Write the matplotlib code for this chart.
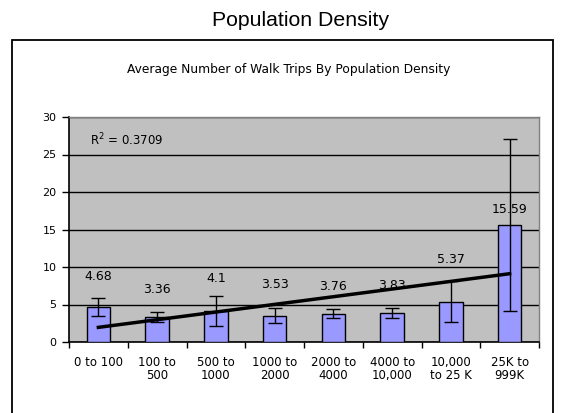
import numpy as np
import matplotlib.pyplot as plt
from matplotlib.patches import Rectangle

# donnees
categories = ["0 to 100", "100 to\n500", "500 to\n1000", "1000 to\n2000", "2000 to\n4000",
              "4000 to\n10,000", "10,000\nto 25 K", "25K to\n999K"]
moyennes = [4.68, 3.36, 4.1, 3.53, 3.76, 3.83, 5.37, 15.59]
erreurs = [1.2, 0.7, 2.0, 1.0, 0.6, 0.65, 2.7, 11.5]
etiquettes = ["4.68", "3.36", "4.1", "3.53", "3.76", "3.83", "5.37", "15.59"]
hauteur_etiquettes = [8.8, 7.0, 8.5, 7.7, 7.4, 7.5, 11.05, 17.7]
texte_r2 = "R$^2$ = 0.3709"

plt.rcParams['font.family'] = ['DejaVu Sans']

fig = plt.figure(figsize=(5.63, 4.13), dpi=100)
rendu = fig.canvas.get_renderer()


# ajuste la taille de police pour que le texte ait la largeur voulue (en pixels)
def ajuster_largeur(texte, largeur_px):
    for _ in range(3):
        l = texte.get_window_extent(renderer=rendu).width
        texte.set_fontsize(texte.get_fontsize() * largeur_px / l)


# cadre exterieur
fig.patches.append(Rectangle((12 / 563, -0.05), (553 - 12) / 563, 1 - 40 / 413 + 0.05,
                             transform=fig.transFigure, fill=False, edgecolor='black',
                             linewidth=1.3))

titre = fig.text(301 / 563, 1 - 21 / 413, "Population Density", ha='center', va='center',
                 fontsize=14, family=['Liberation Sans Narrow', 'Liberation Sans', 'DejaVu Sans'])
ajuster_largeur(titre, 178)
sous_titre = fig.text(289 / 563, 1 - 70 / 413, "Average Number of Walk Trips By Population Density",
                      ha='center', va='center', fontsize=8.5)
ajuster_largeur(sous_titre, 324)

ax = fig.add_axes([69 / 563, 1 - 342 / 413, (539 - 69) / 563, (342 - 117) / 413])
ax.set_facecolor('#C0C0C0')

x = np.arange(len(categories))
ax.bar(x, moyennes, width=0.4, color='#9999FF', edgecolor='black', linewidth=1, zorder=3)
ax.errorbar(x, moyennes, yerr=erreurs, fmt='none', ecolor='black', elinewidth=1,
            capsize=5, capthick=1, zorder=4)

# courbe de tendance lineaire
pente, origine = np.polyfit(x + 1, moyennes, 1)
ax.plot(x, pente * (x + 1) + origine, color='black', linewidth=2.5, zorder=5)

for xi, txt, h in zip(x, etiquettes, hauteur_etiquettes):
    ax.text(xi, h, txt, ha='center', va='center', fontsize=9, zorder=6)

ax.text(0.045, 0.9, texte_r2, transform=ax.transAxes, ha='left', va='center', fontsize=8.5)

ax.set_xlim(-0.5, len(categories) - 0.5)
ax.set_ylim(0, 30)
ax.set_yticks([0, 5, 10, 15, 20, 25, 30])
ax.yaxis.grid(True, color='black', linewidth=1)
ax.set_axisbelow(True)

ax.set_xticks(x)
ax.set_xticklabels(categories, fontsize=8.5, linespacing=1.0)
ax.set_xticks(np.arange(len(categories) + 1) - 0.5, minor=True)
ax.tick_params(axis='x', which='major', length=0, pad=10)
ax.tick_params(axis='x', which='minor', length=4, direction='out', width=1)
ax.tick_params(axis='y', length=5, direction='out', width=1, labelsize=8, pad=4)

for cote in ['top', 'right']:
    ax.spines[cote].set_color('#808080')
    ax.spines[cote].set_linewidth(1)
ax.spines['left'].set_linewidth(1.2)
ax.spines['bottom'].set_linewidth(1.2)

fig.savefig("out.png", dpi=100)
